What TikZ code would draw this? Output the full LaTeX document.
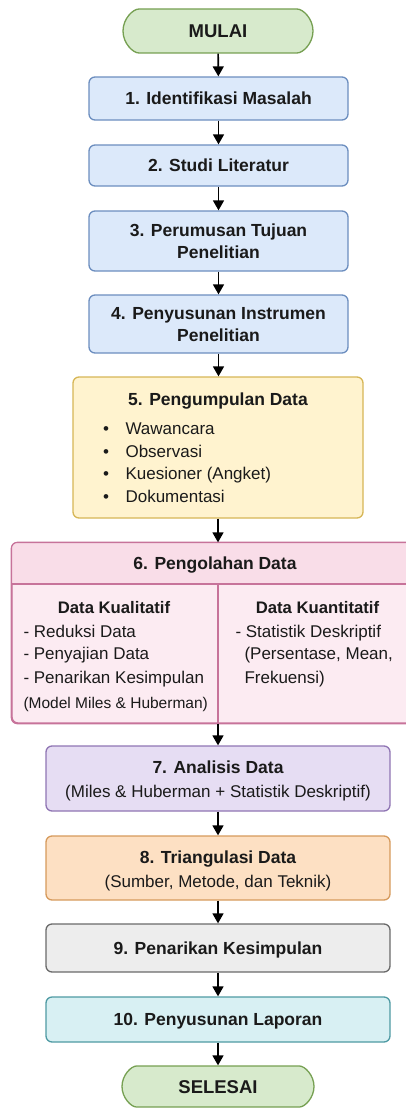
\documentclass[tikz,border=0pt]{standalone}
\usepackage{fontspec}
\setmainfont{Liberation Sans}
\usetikzlibrary{arrows.meta,shapes.misc}
\definecolor{gfill}{HTML}{D7EACC}\definecolor{gdraw}{HTML}{76A052}
\definecolor{bfill}{HTML}{DCE9FA}\definecolor{bdraw}{HTML}{6C8EBF}
\definecolor{yfill}{HTML}{FFF3CF}\definecolor{ydraw}{HTML}{D6B656}
\definecolor{phead}{HTML}{F9DDE8}\definecolor{pfill}{HTML}{FCEBF2}\definecolor{pdraw}{HTML}{C7739A}
\definecolor{ufill}{HTML}{E6DDF3}\definecolor{udraw}{HTML}{8F75B3}
\definecolor{ofill}{HTML}{FDE0C3}\definecolor{odraw}{HTML}{D69A5C}
\definecolor{afill}{HTML}{EDEDED}\definecolor{adraw}{HTML}{6A6A6A}
\definecolor{tfill}{HTML}{D8F0F3}\definecolor{tdraw}{HTML}{4E9AA3}
\definecolor{ink}{HTML}{1A1A1A}
\tikzset{
  every node/.style={text=ink},
  box/.style={draw, line width=1.3pt, rounded corners=6pt, inner sep=0pt, align=center,
    font=\fontsize{17.5}{22}\selectfont\bfseries, text height=12.5pt, text depth=0pt},
  term/.style={box, rounded rectangle, font=\fontsize{18.5}{22}\selectfont\bfseries, text height=13.2pt},
  arr/.style={line width=1.6pt, -{Triangle[width=11pt,length=10pt]}},
  ttl/.style={anchor=base, font=\fontsize{17.5}{22}\selectfont\bfseries},
  sub/.style={anchor=base, font=\fontsize{16.7}{22}\selectfont\bfseries},
  plain/.style={anchor=base, font=\fontsize{17}{22}\selectfont},
  item/.style={anchor=base west, font=\fontsize{17}{22}\selectfont},
}
\begin{document}
\begin{tikzpicture}[x=1pt,y=1pt]
\useasboundingbox (0,0) rectangle (406,-1108);
% terminals and simple boxes
\node[term, fill=gfill, draw=gdraw, minimum width=190pt, minimum height=44pt] (n0) at (218,-31) {MULAI};
\node[box, fill=bfill, draw=bdraw, minimum width=259pt, minimum height=43pt] (n1) at (218.5,-98.5) {1. Identifikasi Masalah};
\node[box, fill=bfill, draw=bdraw, minimum width=259pt, minimum height=41pt] (n2) at (218.5,-165.5) {2. Studi Literatur};
\node[box, fill=bfill, draw=bdraw, minimum width=259pt, minimum height=60pt] (n3) at (218.5,-241) {};
\node[ttl] (t3a) at (218.5,-236) {3. Perumusan Tujuan};
\node[ttl] (t3b) at (218.5,-258) {Penelitian};
\node[box, fill=bfill, draw=bdraw, minimum width=259pt, minimum height=58pt] (n4) at (218.5,-324) {};
\node[ttl] (t4a) at (218.5,-319) {4. Penyusunan Instrumen};
\node[ttl] (t4b) at (218.5,-341) {Penelitian};
% box 5
\node[box, fill=yfill, draw=ydraw, minimum width=290pt, minimum height=141pt] (n5) at (218,-447.5) {};
\node[ttl] (t5) at (218,-405) {5. Pengumpulan Data};
\foreach \y/\t [count=\i] in {434/Wawancara, 457/Observasi, 479.5/Kuesioner (Angket), 502/Dokumentasi}{
  \node[anchor=base, font=\fontsize{17}{22}\selectfont] (b5\i) at (106,-\y) {•};
  \node[item] (i5\i) at (122,-\y) {\t};
}
% box 6
\node[box, fill=pfill, draw=pdraw, minimum width=406pt, minimum height=180pt] (n6) at (215,-633) {};
\begin{scope}
  \clip (0,-540) rectangle (420,-584);
  \fill[phead, rounded corners=6pt] (n6.north west) rectangle (n6.south east);
\end{scope}
\draw[pdraw, line width=1.3pt] (n6.west |- 0,-584) -- (n6.east |- 0,-584);
\draw[pdraw, line width=1.3pt, rounded corners=6pt] (n6.north west) rectangle (n6.south east);
\node[ttl] (t6) at (215,-569) {6. Pengolahan Data};
\node[sub] (k1) at (114,-613) {Data Kualitatif};
\node[sub] (k2) at (317.5,-613) {Data Kuantitatif};
\node[item] (l1) at (20,-637) {- Reduksi Data};
\node[item] (l2) at (20,-659.5) {- Penyajian Data};
\node[item] (l3) at (20,-683) {- Penarikan Kesimpulan};
\node[anchor=base west, font=\fontsize{15.5}{20}\selectfont] (l4) at (20,-708) {(Model Miles \& Huberman)};
\node[item] (r1) at (232,-637) {- Statistik Deskriptif};
\node[item] (r2) at (241,-659.5) {(Persentase, Mean,};
\node[item] (r3) at (241,-683) {Frekuensi)};
% lower boxes
\node[box, fill=ufill, draw=udraw, minimum width=344pt, minimum height=65pt] (n7) at (218,-778.5) {};
\node[ttl] (t7a) at (218,-773) {7. Analisis Data};
\node[plain] (t7b) at (218,-797) {(Miles \& Huberman + Statistik Deskriptif)};
\node[box, fill=ofill, draw=odraw, minimum width=344pt, minimum height=64pt] (n8) at (218,-868) {};
\node[ttl] (t8a) at (218,-863) {8. Triangulasi Data};
\node[plain] (t8b) at (218,-887) {(Sumber, Metode, dan Teknik)};
\node[box, fill=afill, draw=adraw, minimum width=344pt, minimum height=48pt] (n9) at (218,-948) {9. Penarikan Kesimpulan};
\node[box, fill=tfill, draw=tdraw, minimum width=344pt, minimum height=45pt] (n10) at (218,-1019.5) {10. Penyusunan Laporan};
\node[term, fill=gfill, draw=gdraw, minimum width=192pt, minimum height=41pt] (n11) at (218,-1086.5) {SELESAI};
% divider
\coordinate (d6) at (n6.south -| n7.north);
\draw[pdraw, line width=1.3pt] (n7.north |- 0,-584) -- (d6);
% arrows
\draw[arr] (n0) -- (n1);
\draw[arr] (n1) -- (n2);
\draw[arr] (n2) -- (n3);
\draw[arr] (n3) -- (n4);
\draw[arr] (n4.south) -- (n5.north -| n4.south);
\draw[arr] (n5.south) -- (n6.north -| n5.south);
\draw[arr] (d6) -- (n7.north);
\draw[arr] (n7) -- (n8);
\draw[arr] (n8) -- (n9);
\draw[arr] (n9) -- (n10);
\draw[arr] (n10) -- (n11);
\end{tikzpicture}
\end{document}
